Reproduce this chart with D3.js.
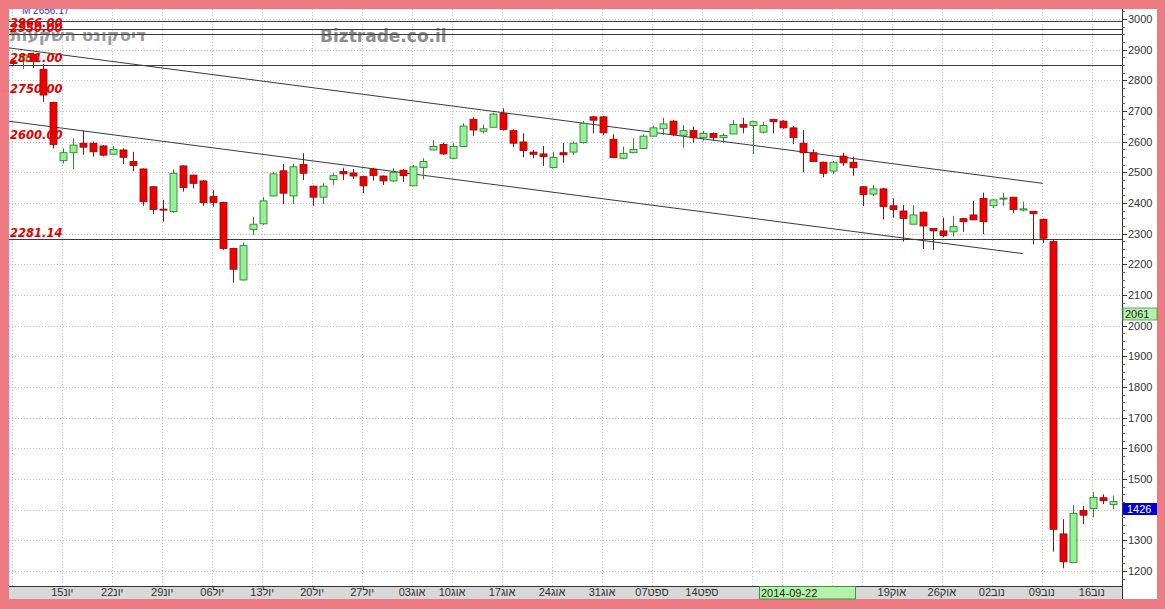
<!DOCTYPE html>
<html><head><meta charset="utf-8">
<script src="https://cdn.jsdelivr.net/npm/d3@7"></script>
<style>body{margin:0;background:#ee7a82;overflow:hidden} svg{display:block}</style>
</head><body><svg id="c" width="1165" height="609"></svg>
<script>
// ---------- DATA ----------
const firstDay = "2014-06-08", lastDay = "2014-11-18";
const tradingWeekdays = [0,1,2,3,4]; // Sun..Thu (TASE)
const holidays = ["2014-08-05","2014-09-24","2014-09-25","2014-10-08","2014-10-09","2014-10-15","2014-10-16"];

const opens  = [2858,2863,2885,2836,2728,2538,2564,2595,2595,2586,2559,2573,2535,2511,2453,2380,2372,2521,2491,2472,
                2421,2402,2252,2149,2314,2332,2423,2505,2423,2526,2455,2419,2477,2503,2498,2486,2510,2488,2472,2507,
                2456,2516,2573,2591,2546,2584,2673,2634,2647,2692,2636,2599,2566,2560,2516,2564,2566,2597,2681,2681,
                2608,2546,2564,2578,2618,2642,2667,2621,2636,2613,2627,2613,2625,2656,2653,2631,2673,2667,2645,2595,
                2564,2533,2504,2553,2533,2453,2429,2446,2391,2374,2331,2370,2317,2309,2306,2349,2361,2415,2391,2414,
                2419,2377,2373,2347,2274,1321,1228,1397,1404,1439,1417];
const highs  = [2865,2887,2890,2853,2730,2578,2611,2636,2600,2589,2586,2578,2567,2513,2455,2410,2510,2523,2492,2475,
                2442,2404,2254,2271,2355,2419,2502,2527,2527,2562,2457,2464,2497,2515,2511,2489,2515,2490,2513,2511,
                2524,2546,2605,2597,2595,2660,2679,2656,2694,2709,2640,2627,2573,2586,2567,2595,2600,2667,2683,2684,
                2624,2584,2611,2624,2652,2678,2670,2654,2649,2635,2630,2627,2671,2678,2668,2665,2673,2670,2651,2638,
                2575,2535,2537,2564,2551,2455,2459,2449,2415,2393,2393,2372,2317,2352,2358,2351,2407,2434,2412,2432,
                2419,2404,2373,2349,2279,1369,1415,1413,1457,1450,1446];
const lows   = [2848,2837,2840,2730,2578,2529,2510,2557,2551,2552,2556,2527,2504,2391,2364,2339,2368,2437,2448,2391,
                2388,2247,2140,2147,2296,2328,2421,2397,2397,2475,2391,2397,2459,2475,2478,2432,2473,2459,2469,2469,
                2456,2477,2573,2557,2543,2584,2618,2627,2647,2636,2582,2549,2546,2521,2516,2531,2557,2594,2627,2622,
                2546,2543,2562,2578,2616,2622,2618,2580,2597,2603,2603,2595,2625,2627,2559,2627,2627,2642,2592,2500,
                2535,2484,2494,2521,2489,2390,2423,2347,2352,2274,2331,2250,2247,2288,2290,2306,2345,2298,2383,2391,
                2368,2372,2265,2269,1263,1209,1228,1353,1375,1418,1401];
const closes = [2855,2883,2861,2752,2591,2564,2589,2582,2567,2556,2575,2549,2522,2404,2379,2377,2497,2450,2464,2401,
                2402,2252,2184,2261,2331,2407,2495,2432,2518,2497,2419,2455,2489,2495,2488,2456,2490,2472,2500,2489,
                2518,2535,2584,2560,2584,2651,2638,2642,2690,2640,2595,2571,2559,2551,2549,2557,2595,2660,2670,2629,
                2548,2562,2575,2618,2645,2658,2624,2636,2613,2627,2613,2620,2656,2647,2665,2653,2665,2645,2613,2564,
                2535,2497,2533,2531,2515,2428,2446,2388,2379,2350,2361,2325,2309,2294,2323,2339,2345,2339,2410,2416,
                2379,2381,2365,2285,1336,1230,1388,1382,1440,1429,1426];

// horizontal level lines and their labels
const levelValues = [2995, 2966, 2950, 2851, 2281.14];
const levelLabels = ["", "2966.00", "2950.00", "2851.00", "2281.14"];
// extra price notes (text only)
const noteValues = [2750, 2600];
const noteLabels = ["2750.00", "2600.00"];
// trend lines: [startDateIndex, startValue, endDateIndex, endValue]
const trendStartIdx = [-0.5, -0.5], trendStartVal = [2906, 2667];
const trendEndIdx = [103, 101], trendEndVal = [2464, 2235];

// x tick labels (week starts)
const tickDates  = ["2014-06-15","2014-06-22","2014-06-29","2014-07-06","2014-07-13","2014-07-20","2014-07-27",
                    "2014-08-03","2014-08-10","2014-08-17","2014-08-24","2014-08-31","2014-09-07","2014-09-14",
                    "2014-10-19","2014-10-26","2014-11-02","2014-11-09","2014-11-16"];
const tickLabels = ["15יונ","22יונ","29יונ","06יול","13יול","20יול","27יול",
                    "03אוג","10אוג","17אוג","24אוג","31אוג","07ספט","14ספט",
                    "19אוק","26אוק","02נוב","09נוב","16נוב"];
const gridWeekStarts = ["2014-06-08","2014-06-15","2014-06-22","2014-06-29","2014-07-06","2014-07-13","2014-07-20","2014-07-27",
                    "2014-08-03","2014-08-10","2014-08-17","2014-08-24","2014-08-31","2014-09-07","2014-09-14",
                    "2014-09-21","2014-09-28","2014-10-05","2014-10-12",
                    "2014-10-19","2014-10-26","2014-11-02","2014-11-09","2014-11-16"];
const yTicks = [1200,1300,1400,1500,1600,1700,1800,1900,2000,2100,2200,2300,2400,2500,2600,2700,2800,2900,3000];
const crossDate = "2014-09-22", crossDateLabel = "2014-09-22";
const crossPrice = 2061, lastPrice = 1426;
const titleNote = "M 2656.17";
const watermarkHe = "דיסקונט השקעות", watermarkEn = "Biztrade.co.il";

// ---------- BUILD CATEGORIES ----------
const fmt = d3.timeFormat("%Y-%m-%d");
const dates = d3.timeDay.range(d3.timeParse("%Y-%m-%d")(firstDay), d3.timeDay.offset(d3.timeParse("%Y-%m-%d")(lastDay),1))
  .filter(d => tradingWeekdays.includes(d.getDay()) && !holidays.includes(fmt(d))).map(fmt);
const data = dates.map((d,i)=>({date:d, o:opens[i], h:highs[i], l:lows[i], c:closes[i]}));

// ---------- LAYOUT ----------
const svg = d3.select("#c");
const P = {l:9, r:1122, t:9, b:586};
svg.append("rect").attr("x",0).attr("y",0).attr("width",1165).attr("height",609).attr("fill","#ee7a82");
svg.append("rect").attr("x",9).attr("y",9).attr("width",1148).attr("height",590).attr("fill","#ffffff");

const x = d3.scaleBand().domain(dates).range([8.3, 1117.75]).padding(0);
const cx = d => x(d) + x.bandwidth()/2;
const xi = d3.scaleLinear().domain([0, dates.length]).range([8.3 + x.bandwidth()/2, 1117.75 + x.bandwidth()/2]);
const y = d3.scaleLinear().domain([1200, 3000]).range([571, 19]);

svg.append("defs").append("clipPath").attr("id","pc").append("rect")
  .attr("x",P.l).attr("y",P.t).attr("width",P.r-P.l).attr("height",P.b-P.t);
const g = svg.append("g").attr("clip-path","url(#pc)");

// grid
g.selectAll(".hg").data(yTicks).enter().append("line")
  .attr("x1",P.l).attr("x2",P.r).attr("y1",d=>Math.round(y(d))+0.5).attr("y2",d=>Math.round(y(d))+0.5)
  .attr("stroke","#c4c4c4").attr("stroke-dasharray","1,2");
g.selectAll(".vg").data(gridWeekStarts).enter().append("line")
  .attr("x1",d=>Math.round(cx(d))-0.5).attr("x2",d=>Math.round(cx(d))-0.5).attr("y1",P.t).attr("y2",P.b)
  .attr("stroke","#c4c4c4").attr("stroke-dasharray","1,2");

// watermarks
g.append("text").attr("x",10).attr("y",41).text(watermarkHe)
  .attr("font-family","DejaVu Sans").attr("font-weight","bold").attr("font-size",17).attr("fill","#9a9a9a");
g.append("text").attr("x",320).attr("y",42).text(watermarkEn)
  .attr("font-family","DejaVu Sans").attr("font-weight","bold").attr("font-size",17).attr("fill","#8c8c8c");

// level lines
g.selectAll(".lv").data(levelValues).enter().append("line")
  .attr("x1",P.l).attr("x2",P.r).attr("y1",d=>Math.round(y(d))+0.5).attr("y2",d=>Math.round(y(d))+0.5)
  .attr("stroke","#3a3a3a").attr("stroke-width",1);
// trend lines
g.selectAll(".tr").data(trendStartIdx).enter().append("line")
  .attr("x1",(d,i)=>xi(trendStartIdx[i])).attr("y1",(d,i)=>y(trendStartVal[i]))
  .attr("x2",(d,i)=>xi(trendEndIdx[i])).attr("y2",(d,i)=>y(trendEndVal[i]))
  .attr("stroke","#3a3a3a").attr("stroke-width",1);

// candles
const up = d => d.c >= d.o;
const cg = g.append("g");
cg.selectAll(".wick").data(data).enter().append("line")
  .attr("x1",d=>Math.round(cx(d.date))+0.5).attr("x2",d=>Math.round(cx(d.date))+0.5)
  .attr("y1",d=>y(d.h)).attr("y2",d=>y(d.l))
  .attr("stroke",d=>up(d)?"#2e8b2e":"#8b1010").attr("stroke-width",1);
cg.selectAll(".body").data(data).enter().append("rect")
  .attr("x",d=>Math.round(cx(d.date))-3)
  .attr("y",d=>y(Math.max(d.o,d.c)))
  .attr("width",7)
  .attr("height",d=>Math.max(1, y(Math.min(d.o,d.c))-y(Math.max(d.o,d.c))))
  .attr("fill",d=>up(d)?"#96f096":"#ee0000")
  .attr("stroke",d=>up(d)?"#1f7a1f":"#a00000").attr("stroke-width",0.8);

// labels for levels
const lblFont = {ff:"DejaVu Sans", fs:11.5};
g.selectAll(".ll").data(levelLabels).enter().append("text")
  .attr("x",10).attr("y",(d,i)=>y(levelValues[i])-2.5).text(d=>d)
  .attr("font-family",lblFont.ff).attr("font-size",lblFont.fs).attr("font-weight","bold").attr("font-style","italic")
  .attr("fill","#e00000");
g.selectAll(".nl").data(noteLabels).enter().append("text")
  .attr("x",10).attr("y",(d,i)=>y(noteValues[i])-2.5).text(d=>d)
  .attr("font-family",lblFont.ff).attr("font-size",lblFont.fs).attr("font-weight","bold").attr("font-style","italic")
  .attr("fill","#e00000");
g.append("text").attr("x",22).attr("y",14).text(titleNote)
  .attr("font-family","Liberation Sans").attr("font-size",10).attr("fill","#3030d0");

// x-axis band
svg.append("rect").attr("x",P.l).attr("y",P.b).attr("width",P.r-P.l).attr("height",13).attr("fill","#d8d8d8");
svg.append("line").attr("x1",P.l).attr("x2",P.r).attr("y1",P.b+0.5).attr("y2",P.b+0.5).attr("stroke","#333");
svg.selectAll(".xl").data(tickLabels).enter().append("text")
  .attr("x",(d,i)=>cx(tickDates[i])-1).attr("y",P.b+10).attr("text-anchor","middle").text(d=>d)
  .attr("font-family","Liberation Sans").attr("font-size",11).attr("fill","#333");
// crosshair date label
const cdx = Math.round(x(crossDate))+1;
svg.append("rect").attr("x",cdx+0.5).attr("y",P.b+0.5).attr("width",96).attr("height",12.5)
  .attr("fill","#b4f2ac").attr("stroke","#3a9a3a");
svg.append("text").attr("x",cdx+2).attr("y",P.b+10.5).text(crossDateLabel)
  .attr("font-family","Liberation Sans").attr("font-size",11).attr("fill","#222");

// right axis
svg.append("line").attr("x1",P.r+0.5).attr("x2",P.r+0.5).attr("y1",P.t).attr("y2",599).attr("stroke","#333");
const minor = d3.range(1175, 3026, 25);
svg.selectAll(".mt").data(minor).enter().append("line")
  .attr("x1",P.r).attr("x2",P.r+3).attr("y1",d=>Math.round(y(d))+0.5).attr("y2",d=>Math.round(y(d))+0.5)
  .attr("stroke","#666");
svg.selectAll(".yt").data(yTicks).enter().append("line")
  .attr("x1",P.r).attr("x2",P.r+5).attr("y1",d=>Math.round(y(d))+0.5).attr("y2",d=>Math.round(y(d))+0.5)
  .attr("stroke","#333");
svg.selectAll(".yl").data(yTicks).enter().append("text")
  .attr("x",P.r+6).attr("y",d=>y(d)+4).text(d=>d)
  .attr("font-family","Liberation Sans").attr("font-size",11).attr("fill","#333");

// price boxes
svg.append("rect").attr("x",P.r+1).attr("y",Math.round(y(crossPrice))+1).attr("width",34).attr("height",12)
  .attr("fill","#b4f2ac").attr("stroke","#3a9a3a").attr("stroke-width",0.8);
svg.append("text").attr("x",P.r+3).attr("y",Math.round(y(crossPrice))+11).text(crossPrice)
  .attr("font-family","Liberation Sans").attr("font-size",11).attr("fill","#222");
svg.append("rect").attr("x",P.r+1).attr("y",Math.round(y(lastPrice))+1).attr("width",34).attr("height",12)
  .attr("fill","#0000d8");
svg.append("text").attr("x",P.r+5).attr("y",Math.round(y(lastPrice))+11).text(lastPrice)
  .attr("font-family","Liberation Sans").attr("font-size",11).attr("fill","#fff");
</script></body></html>
